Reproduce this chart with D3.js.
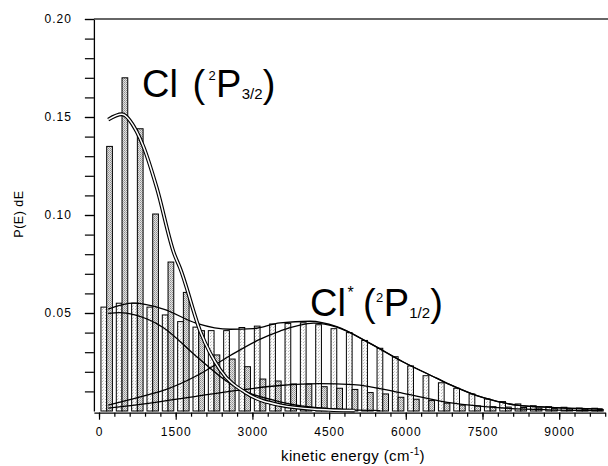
<!DOCTYPE html>
<html>
<head>
<meta charset="utf-8">
<script src="https://cdnjs.cloudflare.com/ajax/libs/d3/7.8.5/d3.min.js"></script>
<style>
body { margin: 0; background: #fff; }
svg { display: block; font-family: Arial, "Liberation Sans", Helvetica, sans-serif; }
</style>
</head>
<body>
<div id="chart"></div>
<script>
// histogram bins (centre, cm-1)
var binCenters = [150, 450, 750, 1050, 1350, 1650, 1950, 2250, 2550, 2850, 3150,
    3450, 3750, 4050, 4350, 4650, 4950, 5250, 5550, 5850, 6150, 6450, 6750,
    7050, 7350, 7650, 7950, 8250, 8550, 8850, 9150, 9450, 9750];
// Cl* (2P1/2) histogram - light bars
var clStarBars = [0.053, 0.055, 0.055, 0.053, 0.049, 0.0456, 0.0428, 0.041, 0.041,
    0.0426, 0.0433, 0.0444, 0.0447, 0.045, 0.044, 0.042, 0.040, 0.036, 0.032,
    0.0277, 0.023, 0.018, 0.0144, 0.0116, 0.0087, 0.0061, 0.0048, 0.0036,
    0.0027, 0.0022, 0.0019, 0.0015, 0.0014];
// Cl (2P3/2) histogram - dark bars
var clBars = [0.135, 0.170, 0.144, 0.1005, 0.076, 0.0605, 0.041, 0.0286, 0.0265,
    0.0226, 0.0163, 0.0153, 0.0138, 0.0138, 0.0124, 0.0116, 0.011, 0.0094,
    0.0087, 0.007, 0.006, 0.0053, 0.004, 0.003, 0.0026, 0.0022, 0.002, 0.0018,
    0.0015, 0.0012, 0.001, 0.0009, 0.0008];

// fitted curves [E, P(E)]
var clFastCurve = [[180, 0.1487], [444, 0.1514], [737, 0.1425], [867, 0.135],
    [1128, 0.114], [1473, 0.080], [1584, 0.073], [1990, 0.040], [2370, 0.021],
    [2890, 0.009], [3540, 0.003], [4300, 0.0008], [5000, 0.0002]];
var clSlowCurve = [[180, 0.0015], [1000, 0.004], [1900, 0.0075], [2700, 0.0105],
    [3540, 0.013], [4300, 0.014], [4975, 0.0135], [5950, 0.009], [6925, 0.004],
    [7800, 0.0017], [8800, 0.0006], [9850, 0.0002]];
var clStarLowCurve = [[180, 0.0498], [400, 0.0502], [700, 0.049], [1260, 0.0425],
    [1910, 0.0277], [2560, 0.014], [3540, 0.0047], [4500, 0.0012], [5500, 0.0002]];
var clStarGaussCurve = [[180, 0.003], [700, 0.0065], [1260, 0.0105], [1910, 0.018],
    [2560, 0.0282], [3100, 0.036], [3540, 0.0408], [4200, 0.0448], [4650, 0.0428],
    [5300, 0.0345], [5950, 0.025], [6600, 0.0168], [6865, 0.0135], [7516, 0.0068],
    [8170, 0.003], [8820, 0.0019], [9850, 0.001]];
var clStarTotalCurve = [[180, 0.052], [671, 0.055], [1260, 0.052], [1910, 0.0447],
    [2560, 0.0417], [3020, 0.042], [3540, 0.045], [4130, 0.0458], [4650, 0.043],
    [5300, 0.0345], [5950, 0.025], [6600, 0.0168], [6865, 0.0135], [7516, 0.0068],
    [8170, 0.003], [8820, 0.0019], [9850, 0.001]];

var xMajorTicks = [0, 1500, 3000, 4500, 6000, 7500, 9000];
var yMajorTicks = [0.05, 0.10, 0.15, 0.20];

var cfg = {
    w: 608, h: 466,
    xLeft: 93.9, xRight: 605.2,
    yZero: 411, yTop: 19,
    axisY: 412.7,
    barW: 112
};

var svg = d3.select('#chart').append('svg')
    .attr('width', cfg.w)
    .attr('height', cfg.h);

// stipple fills
var defs = svg.append('defs');
var pLight = defs.append('pattern').attr('id', 'dotLight')
    .attr('patternUnits', 'userSpaceOnUse').attr('width', 3).attr('height', 3);
pLight.append('rect').attr('width', 3).attr('height', 3).attr('fill', '#fbfbfb');
pLight.append('rect').attr('x', 0).attr('y', 0).attr('width', 1).attr('height', 1).attr('fill', '#b8b8b8');
pLight.append('rect').attr('x', 1).attr('y', 2).attr('width', 1).attr('height', 1).attr('fill', '#cfcfcf');

var pDark = defs.append('pattern').attr('id', 'dotDark')
    .attr('patternUnits', 'userSpaceOnUse').attr('width', 2).attr('height', 2);
pDark.append('rect').attr('width', 2).attr('height', 2).attr('fill', '#e4e4e4');
pDark.append('rect').attr('x', 0).attr('y', 0).attr('width', 1).attr('height', 1).attr('fill', '#8e8e8e');
pDark.append('rect').attr('x', 1).attr('y', 1).attr('width', 1).attr('height', 1).attr('fill', '#a8a8a8');

var x = d3.scaleLinear().domain([-100, 9900]).range([cfg.xLeft, cfg.xRight]);
var y = d3.scaleLinear().domain([0, 0.2]).range([cfg.yZero, cfg.yTop]);

// bars
var gBars = svg.append('g');
gBars.selectAll('.barStar')
    .data(binCenters)
    .enter()
    .append('rect')
    .classed('barStar', true)
    .attr('x', function (d) { return x(d - cfg.barW); })
    .attr('width', function (d) { return x(d) - x(d - cfg.barW); })
    .attr('y', function (d, i) { return y(clStarBars[i]); })
    .attr('height', function (d, i) { return y(0) - y(clStarBars[i]); })
    .attr('fill', 'url(#dotLight)')
    .attr('stroke', '#000')
    .attr('stroke-width', 1);

gBars.selectAll('.barCl')
    .data(binCenters)
    .enter()
    .append('rect')
    .classed('barCl', true)
    .attr('x', function (d) { return x(d); })
    .attr('width', function (d) { return x(d + cfg.barW) - x(d); })
    .attr('y', function (d, i) { return y(clBars[i]); })
    .attr('height', function (d, i) { return y(0) - y(clBars[i]); })
    .attr('fill', 'url(#dotDark)')
    .attr('stroke', '#000')
    .attr('stroke-width', 1);

// curves
var line = d3.line()
    .x(function (d) { return x(d[0]); })
    .y(function (d) { return y(d[1]); })
    .curve(d3.curveMonotoneX);

var gCurves = svg.append('g').attr('fill', 'none');
[clSlowCurve, clStarLowCurve, clStarGaussCurve, clStarTotalCurve].forEach(function (c) {
    gCurves.append('path')
        .attr('d', line(c))
        .attr('stroke', '#000')
        .attr('stroke-width', 1.3);
});
// double line for the Cl fit
gCurves.append('path').attr('d', line(clFastCurve))
    .attr('stroke', '#000').attr('stroke-width', 3.8);
gCurves.append('path').attr('d', line(clFastCurve))
    .attr('stroke', '#fff').attr('stroke-width', 1.5);

// axes
function styleAxis(g) {
    g.select('.domain').attr('stroke', '#000').attr('stroke-width', 1.3);
    g.selectAll('.tick line').attr('stroke', '#000').attr('stroke-width', 1.2);
    g.selectAll('.tick text')
        .attr('fill', '#000')
        .style('font-size', '12px')
        .style('letter-spacing', '1px')
        .style('font-family', 'Arial, "Liberation Sans", sans-serif');
}

svg.append('g')
    .attr('transform', 'translate(0,' + cfg.axisY + ')')
    .call(d3.axisBottom(x).tickValues(d3.range(0, 9901, 300)).tickSize(4).tickSizeOuter(0).tickFormat(''))
    .call(styleAxis);
svg.append('g')
    .attr('transform', 'translate(0,' + cfg.axisY + ')')
    .call(d3.axisBottom(x).tickValues(xMajorTicks).tickSize(7).tickPadding(8).tickSizeOuter(0).tickFormat(d3.format('d')))
    .call(styleAxis)
    .call(function (g) { g.select('.domain').remove(); });

svg.append('g')
    .attr('transform', 'translate(' + cfg.xLeft + ',0)')
    .call(d3.axisLeft(y).tickValues(d3.range(0.01, 0.2001, 0.01)).tickSize(9).tickSizeOuter(0).tickFormat(''))
    .call(styleAxis);
svg.append('g')
    .attr('transform', 'translate(' + cfg.xLeft + ',0)')
    .call(d3.axisLeft(y).tickValues(yMajorTicks).tickSize(9).tickPadding(13).tickFormat(d3.format('.2f')))
    .call(styleAxis)
    .call(function (g) { g.select('.domain').remove(); });

// top frame
svg.append('line')
    .attr('x1', cfg.xLeft).attr('x2', cfg.w)
    .attr('y1', y(0.2)).attr('y2', y(0.2))
    .attr('stroke', '#333').attr('stroke-width', 1.7);

// axis titles
svg.append('text')
    .attr('transform', 'translate(23,214) rotate(-90)')
    .attr('text-anchor', 'middle')
    .style('font-size', '12.5px')
    .style('letter-spacing', '0.5px')
    .text('P(E) dE');

var xt = svg.append('text')
    .attr('x', 353).attr('y', 461)
    .attr('text-anchor', 'middle')
    .style('font-size', '15px')
    .style('letter-spacing', '0.4px');
xt.append('tspan').text('kinetic energy (cm');
xt.append('tspan').attr('dy', -6).style('font-size', '10px').text('-1');
xt.append('tspan').attr('dy', 6).text(')');

// peak labels, one text each with sub/superscripts
function peakLabel(px, py, parts) {
    var t = svg.append('text').attr('x', px).attr('y', py);
    parts.forEach(function (p) {
        t.append('tspan')
            .attr('dx', p[1]).attr('dy', p[2])
            .style('font-size', p[3] + 'px')
            .text(p[0]);
    });
}
peakLabel(142, 97, [
    ['Cl', 0, 0, 38],
    ['(', 14.6, 0, 38],
    ['2', 3.3, -17, 13],
    ['P', 0.4, 17, 38],
    ['3/2', 0.2, 2, 15],
    [')', 0.2, -2, 38]
]);
peakLabel(310, 316, [
    ['Cl', 0, 0, 38],
    ['*', 1.6, -18, 16],
    ['(', 9.3, 18, 38],
    ['2', 0.4, -14, 13],
    ['P', 0.4, 14, 38],
    ['1/2', 0.2, 2, 15],
    [')', 0.2, -2, 38]
]);
</script>
</body>
</html>
